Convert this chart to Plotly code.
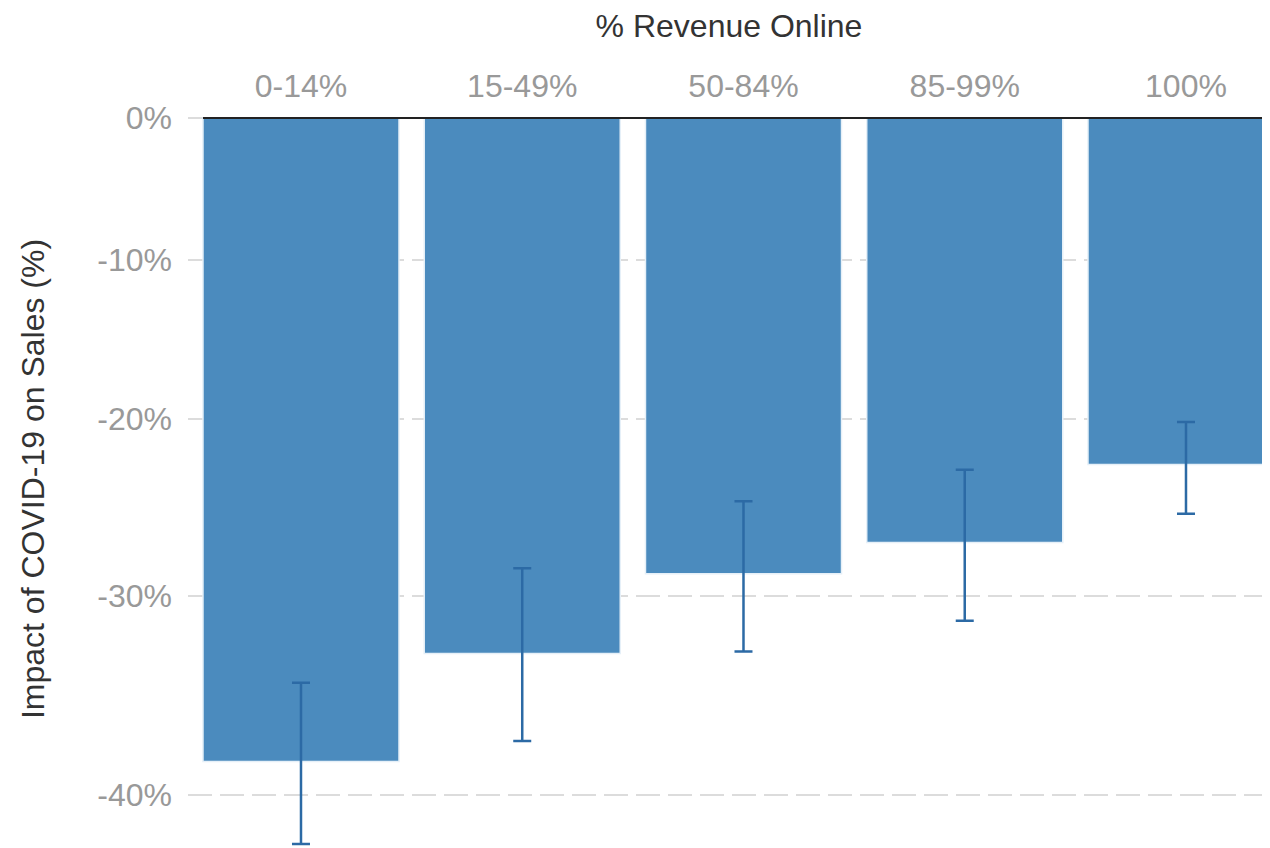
import plotly.graph_objects as go

# ---- data ----
categories = ["0-14%", "15-49%", "50-84%", "85-99%", "100%"]
impact = [-38.4, -33.0, -28.8, -27.1, -22.7]          # % change in sales
ci_high = [-34.5, -28.5, -24.8, -23.0, -20.2]         # upper end of interval
ci_low = [-42.3, -37.4, -32.9, -31.3, -25.5]          # lower end of interval
tick_values = [0, -10, -20, -30, -40]
tick_labels = ["0%", "-10%", "-20%", "-30%", "-40%"]

# ---- exponential y scale used by the original chart ----
R = 1.119


def T(p):
    return R ** (-p / 10.0) - 1.0


y_vals = [T(v) for v in impact]
err_plus = [T(lo) - T(v) for lo, v in zip(ci_low, impact)]
err_minus = [T(v) - T(hi) for hi, v in zip(ci_high, impact)]

BAR = "#4b8bbe"
ERR = "#2c6aa5"
FONT = "Liberation Sans, Arial, Helvetica, sans-serif"

fig = go.Figure()
fig.add_trace(go.Bar(
    x=categories,
    y=y_vals,
    marker=dict(color=BAR, line=dict(color="#e6f0f8", width=1.5)),
    error_y=dict(type="data", symmetric=False, array=err_plus,
                 arrayminus=err_minus, color=ERR, thickness=2.5, width=9),
    hoverinfo="skip",
))

fig.add_shape(type="line", xref="x", yref="y", x0=-0.443, x1=4.6, y0=0, y1=0,
              line=dict(color="#222222", width=2), layer="above")

# the page body adds an 8px margin, so the figure is 8px smaller to fill the window
fig.update_layout(
    width=1262, height=840,
    margin=dict(l=180, r=0, t=102, b=0),
    paper_bgcolor="white", plot_bgcolor="white",
    bargap=0.114,
    showlegend=False,
    font=dict(family=FONT, size=32, color="#999999"),
    xaxis=dict(
        side="top",
        type="category",
        range=[-0.5107, 4.3797],
        automargin=False,
        showgrid=False, zeroline=False, showline=False, ticks="",
        ticklabelstandoff=6,
        tickfont=dict(size=32, color="#999999"),
        title=dict(text="% Revenue Online", font=dict(size=32, color="#333333"),
                   standoff=22),
    ),
    yaxis=dict(
        range=[0.61242, -0.00671],
        tickvals=[T(v) for v in tick_values],
        ticktext=tick_labels,
        automargin=False,
        showgrid=True, gridcolor="#dcdcdc", gridwidth=1.5, griddash="24px,8px",
        zeroline=False, showline=False, ticks="",
        ticklabelstandoff=15,
        tickfont=dict(size=32, color="#999999"),
        title=dict(text="Impact of COVID-19 on Sales (%)",
                   font=dict(size=32, color="#333333"), standoff=43),
    ),
)

fig.write_html("out.html")
